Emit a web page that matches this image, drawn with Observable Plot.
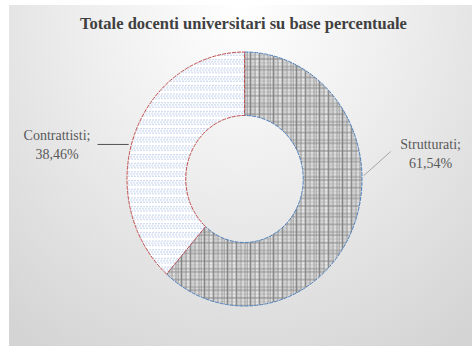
<!DOCTYPE html>
<html>
<head>
<meta charset="utf-8">
<script src="https://cdn.jsdelivr.net/npm/d3@7"></script>
<script src="https://cdn.jsdelivr.net/npm/@observablehq/plot@0.6"></script>
<style>
  html, body { margin: 0; padding: 0; background: #ffffff; }
  #wrap { position: relative; width: 472px; height: 346px; overflow: hidden; }
  #panel {
    position: absolute; left: 9px; top: 5px; right: 0; bottom: 0;
    background: radial-gradient(ellipse 80% 120% at 50% 0%, #ffffff 0%, #efefef 40%, #d4d4d4 100%);
  }
  #chart { position: absolute; left: 0; top: 0; }
  #chart svg text { font-family: "Liberation Serif", "DejaVu Serif", serif; }
</style>
</head>
<body>
<div id="wrap"><div id="panel"></div><div id="chart"></div></div>
<script>
// Docenti universitari: composizione percentuale
const categories = ["Strutturati", "Contrattisti"];
const percentages = [61.54, 38.46];
const chartTitle = "Totale docenti universitari su base percentuale";

const slices = categories.map((c, i) => ({category: c, value: percentages[i]}));
const fmt = v => v.toFixed(2).replace(".", ",") + "%";

// per-category styling: fill pattern and outline colour
const styleOf = {
  Strutturati: {fill: "url(#plaid)", stroke: "#4f81bd"},
  Contrattisti: {fill: "url(#dots)", stroke: "#c0504d"}
};

// label anchors and leader lines in ring units (radius = 1)
const labelAt = {
  Strutturati: {x: 1.58, y: 0.215, x1: 1.01, y1: 0.03, x2: 1.24, y2: 0.22},
  Contrattisti: {x: -1.60, y: 0.285, x1: -0.99, y1: 0.276, x2: -1.255, y2: 0.276}
};

const INNER = 0.5;

function ring(index, scales) {
  const g = d3.create("svg:g");
  const defs = g.append("defs");

  // grey plaid tile: irregular vertical threads crossed by horizontal bands
  const PW = 23, PH = 17;
  const plaid = defs.append("pattern").attr("id", "plaid")
    .attr("patternUnits", "userSpaceOnUse").attr("width", PW).attr("height", PH);
  plaid.append("rect").attr("width", PW).attr("height", PH).attr("fill", "#ffffff");
  [[0, 1, 0.8], [2, 1, 0.6], [3, 1, 0.35], [5, 2, 0.75], [8, 1, 0.5], [10, 1, 0.85],
   [12, 1, 0.3], [14, 2, 0.7], [17, 1, 0.55], [19, 1, 0.8], [21, 1, 0.4]].forEach(([x, w, o]) =>
    plaid.append("rect").attr("x", x).attr("y", 0).attr("width", w).attr("height", PH)
      .attr("fill", "#606060").attr("fill-opacity", o));
  [[0, 2, 0.45], [4, 1, 0.3], [7, 2, 0.5], [11, 1, 0.25], [14, 2, 0.4]].forEach(([y, h, o]) =>
    plaid.append("rect").attr("x", 0).attr("y", y).attr("width", PW).attr("height", h)
      .attr("fill", "#808080").attr("fill-opacity", o));

  // light blue dotted tile
  const dots = defs.append("pattern").attr("id", "dots")
    .attr("patternUnits", "userSpaceOnUse").attr("width", 3).attr("height", 8);
  dots.append("rect").attr("width", 3).attr("height", 8).attr("fill", "#ffffff");
  [[1, 1], [0, 3], [1, 5]].forEach(([x, y]) =>
    dots.append("rect").attr("x", x).attr("y", y).attr("width", 1).attr("height", 1)
      .attr("fill", "#6b8fd2").attr("fill-opacity", 0.8));

  const cx = scales.x(0), cy = scales.y(0);
  const rx = scales.x(1) - cx, ry = cy - scales.y(1);
  const pie = d3.pie().sort(null).value(d => d.value);
  const arc = d3.arc().outerRadius(rx).innerRadius(rx * INNER);

  const layer = g.append("g")
    .attr("transform", `translate(${cx},${cy}) scale(1,${ry / rx})`);
  layer.selectAll("path").data(pie(slices)).join("path")
    .attr("d", arc)
    .attr("fill", d => styleOf[d.data.category].fill)
    .attr("stroke", d => styleOf[d.data.category].stroke)
    .attr("stroke-width", 1)
    .attr("stroke-dasharray", "4,1")
    .attr("vector-effect", "non-scaling-stroke");
  return g.node();
}

const plot = Plot.plot({
  width: 472,
  height: 346,
  margin: 0,
  style: {background: "transparent", overflow: "visible"},
  x: {domain: [-1, 1], range: [127, 362], axis: null},
  y: {domain: [-1, 1], range: [306, 52], axis: null},
  marks: [
    ring,
    Plot.link(slices, {
      x1: d => labelAt[d.category].x1, y1: d => labelAt[d.category].y1,
      x2: d => labelAt[d.category].x2, y2: d => labelAt[d.category].y2,
      stroke: d => d.category === "Contrattisti" ? "#505050" : "#a6a6a6",
      strokeWidth: 1
    }),
    Plot.text(slices, {
      x: d => labelAt[d.category].x,
      y: d => labelAt[d.category].y,
      text: d => `${d.category};\n${fmt(d.value)}`,
      fontFamily: "Liberation Serif",
      fontSize: 14,
      lineHeight: 1.4,
      fill: "#595959",
      textAnchor: "middle"
    }),
    Plot.text([chartTitle], {
      frameAnchor: "top",
      dx: 7,
      dy: 23,
      lineAnchor: "middle",
      text: d => d,
      fontFamily: "Liberation Serif",
      fontWeight: "bold",
      fontSize: 16.5,
      fill: "#404040"
    })
  ]
});

document.getElementById("chart").append(plot);
</script>
</body>
</html>
